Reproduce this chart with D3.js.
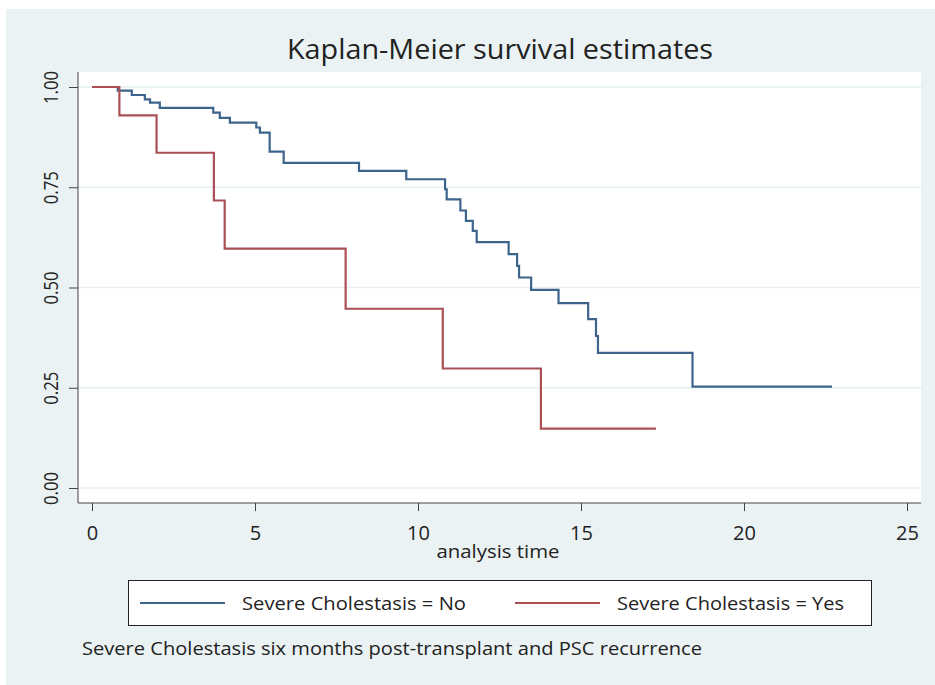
<!DOCTYPE html>
<html>
<head>
<meta charset="utf-8">
<script src="https://cdn.jsdelivr.net/npm/d3@7"></script>
<style>
  body { margin: 0; background: #fff; }
  text { font-family: "Open Sans", sans-serif; fill: #222; }
</style>
</head>
<body>
<svg id="km" width="935" height="685"></svg>
<script>
// data: step times and survival after each step
const noTimes = [0, 0.79, 1.22, 1.62, 1.78, 2.08, 3.72, 3.92, 4.23, 5.04, 5.15, 5.45, 5.88,
                 8.19, 9.64, 10.83, 10.88, 11.3, 11.47, 11.68, 11.8, 12.78, 13.04, 13.1,
                 13.47, 14.31, 15.22, 15.46, 15.52, 18.42];
const noSurv  = [1.0, 0.991, 0.980, 0.969, 0.961, 0.948, 0.936, 0.923, 0.911, 0.899, 0.886, 0.839, 0.811,
                 0.791, 0.770, 0.745, 0.720, 0.692, 0.666, 0.641, 0.613, 0.583, 0.554, 0.525,
                 0.494, 0.461, 0.421, 0.379, 0.337, 0.253];
const noEnd = 22.7;

const yesTimes = [0, 0.84, 1.98, 3.74, 4.07, 7.78, 10.76, 13.77];
const yesSurv  = [1.0, 0.929, 0.836, 0.717, 0.597, 0.447, 0.298, 0.148];
const yesEnd = 17.3;

const xTicks = [0, 5, 10, 15, 20, 25];
const yTicks = [0, 0.25, 0.5, 0.75, 1];

const seriesNames = ["Severe Cholestasis = No", "Severe Cholestasis = Yes"];
const seriesColors = ["#3d648c", "#ab4f57"];

const svg = d3.select("#km");

// squeeze text to the narrow look of the original font
function fit(sel, w) {
    sel.attr("textLength", w).attr("lengthAdjust", "spacingAndGlyphs");
}

// outer stata-like background
svg.append("rect")
    .attr("x", 6).attr("y", 9)
    .attr("width", 929).attr("height", 676)
    .attr("fill", "#eaf2f3");

const plot = { left: 78, right: 921, top: 72, bottom: 503 };

svg.append("rect")
    .attr("x", plot.left).attr("y", plot.top)
    .attr("width", plot.right - plot.left)
    .attr("height", plot.bottom - plot.top)
    .attr("fill", "#fff");

const x = d3.scaleLinear().domain([0, 25]).range([92, 907]);
const y = d3.scaleLinear().domain([0, 1]).range([488, 87]);

// gridlines
svg.append("g")
    .selectAll("line")
    .data(yTicks)
    .join("line")
    .attr("x1", plot.left).attr("x2", plot.right)
    .attr("y1", d => y(d)).attr("y2", d => y(d))
    .attr("stroke", "#e6eff1")
    .attr("stroke-width", 1.5);

// axes
const yAxis = svg.append("g")
    .attr("transform", `translate(${plot.left},0)`)
    .call(d3.axisLeft(y).tickValues(yTicks).tickFormat(d3.format(".2f")).tickSize(9).tickSizeOuter(0));
yAxis.select(".domain").attr("d", `M0,${plot.top}V${plot.bottom}`).attr("stroke", "#444");
yAxis.selectAll("line").attr("stroke", "#444");
yAxis.selectAll("text")
    .attr("transform", "rotate(-90)")
    .attr("x", 0).attr("y", -20)
    .attr("dy", 0)
    .style("text-anchor", "middle")
    .style("font-size", "20px")
    .style("font-family", "Open Sans, sans-serif")
    .attr("fill", "#222")
    .call(fit, 33);

const xAxis = svg.append("g")
    .attr("transform", `translate(0,${plot.bottom})`)
    .call(d3.axisBottom(x).tickValues(xTicks).tickSize(8).tickSizeOuter(0));
xAxis.select(".domain").attr("d", `M${plot.left},0H${plot.right}`).attr("stroke", "#444");
xAxis.selectAll("line").attr("stroke", "#444");
xAxis.selectAll("text")
    .attr("y", 37).attr("dy", 0)
    .style("font-size", "20px")
    .style("font-family", "Open Sans, sans-serif")
    .attr("fill", "#222");

svg.append("text")
    .attr("x", 498).attr("y", 558)
    .attr("text-anchor", "middle")
    .style("font-size", "19px")
    .text("analysis time")
    .call(fit, 123);

svg.append("text")
    .attr("x", 500).attr("y", 59)
    .attr("text-anchor", "middle")
    .style("font-size", "27px")
    .attr("fill", "#1c2a3a")
    .text("Kaplan-Meier survival estimates")
    .call(fit, 426);

// step curves
function stepPoints(times, surv, end) {
    const pts = times.map((t, i) => [t, surv[i]]);
    pts.push([end, surv[surv.length - 1]]);
    return pts;
}
const stepLine = d3.line()
    .x(d => x(d[0]))
    .y(d => y(d[1]))
    .curve(d3.curveStepAfter);

const curves = [
    stepPoints(noTimes, noSurv, noEnd),
    stepPoints(yesTimes, yesSurv, yesEnd)
];

svg.append("g")
    .selectAll("path")
    .data(curves)
    .join("path")
    .attr("d", stepLine)
    .attr("fill", "none")
    .attr("stroke", (d, i) => seriesColors[i])
    .attr("stroke-width", 2.2);

// legend
const legend = svg.append("g");
legend.append("rect")
    .attr("x", 128.5).attr("y", 580.5)
    .attr("width", 743).attr("height", 45)
    .attr("fill", "#fff")
    .attr("stroke", "#222");

const legX = [140, 515];
const legW = [224, 227];
seriesNames.forEach((name, i) => {
    legend.append("line")
        .attr("x1", legX[i]).attr("x2", legX[i] + 85)
        .attr("y1", 603).attr("y2", 603)
        .attr("stroke", seriesColors[i])
        .attr("stroke-width", 2.2);
    legend.append("text")
        .attr("x", legX[i] + 102).attr("y", 610)
        .style("font-size", "19px")
        .text(name)
        .call(fit, legW[i]);
});

svg.append("text")
    .attr("x", 82).attr("y", 655)
    .style("font-size", "19px")
    .text("Severe Cholestasis six months post-transplant and PSC recurrence")
    .call(fit, 620);
</script>
</body>
</html>
